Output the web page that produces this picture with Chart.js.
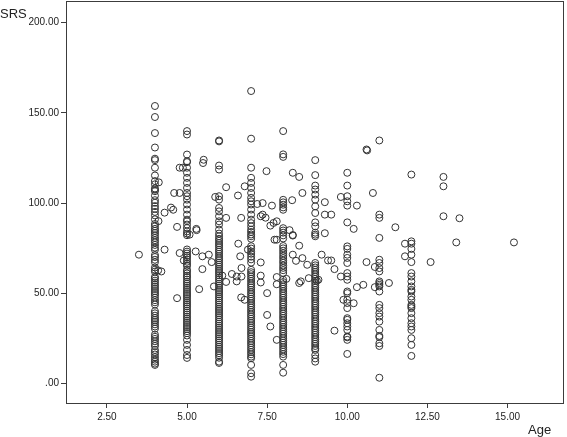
<!DOCTYPE html>
<html>
<head>
<meta charset="utf-8">
<script src="https://cdn.jsdelivr.net/npm/chart.js@4.4.1/dist/chart.umd.min.js"></script>
<style>
    body { margin: 0; background: #fff; }
    #wrap { width: 567px; height: 437px; }
</style>
</head>
<body>
<div id="wrap"><canvas id="scatterChart" width="567" height="437"></canvas></div>
<script>
// Tick values and labels
const xTicks = [2.5, 5, 7.5, 10, 12.5, 15];
const xTickLabels = ['2.50', '5.00', '7.50', '10.00', '12.50', '15.00'];
const yTicks = [0, 50, 100, 150, 200];
const yTickLabels = ['.00', '50.00', '100.00', '150.00', '200.00'];

// SRS values for the children stacked at each whole age
const columnAges = [4, 5, 6, 7, 8, 9, 10, 11, 12];
const age4Srs = [153.8, 147.7, 138.8, 130.8, 124.6, 123.8, 119.6, 115.3, 112.2, 110.4, 108.1, 107.4, 106.6, 104.1, 101.6, 100.2, 98.3, 96.8, 95.1, 93.2, 91.0, 88.4, 87.1, 85.7, 84.6, 83.4, 82.1, 80.7, 79.4, 78.2, 76.8, 75.3, 74.1, 71.2, 70.1, 68.6, 67.2, 64.3, 63.1, 62.0, 59.1, 58.2, 57.0, 55.9, 54.7, 53.6, 52.4, 51.2, 50.1, 49.0, 47.6, 46.2, 45.0, 43.8, 40.1, 38.9, 37.6, 36.3, 35.2, 34.1, 32.8, 31.6, 30.4, 27.1, 25.9, 24.7, 23.4, 22.1, 20.8, 18.6, 17.3, 16.1, 14.6, 13.2, 12.1, 11.0, 10.3];
const age5Srs = [139.9, 138.0, 126.9, 123.2, 122.7, 119.6, 116.8, 114.0, 111.2, 108.4, 105.6, 103.8, 101.9, 99.2, 96.4, 93.6, 90.8, 89.9, 88.1, 86.2, 84.3, 83.1, 82.2, 74.3, 73.1, 72.0, 70.8, 69.9, 68.7, 67.5, 66.3, 65.2, 63.1, 62.2, 61.0, 59.8, 58.9, 57.6, 56.4, 55.3, 54.2, 53.0, 51.9, 50.7, 49.6, 48.5, 47.3, 46.1, 45.0, 43.9, 42.8, 41.6, 40.4, 39.3, 38.2, 37.0, 35.9, 34.7, 33.6, 32.4, 31.3, 30.2, 29.0, 27.9, 26.6, 24.2, 21.4, 18.6, 15.8, 14.2];
const age6Srs = [134.7, 134.2, 120.8, 118.6, 103.8, 101.9, 97.3, 95.4, 92.7, 89.9, 88.1, 85.3, 83.1, 81.6, 80.2, 79.1, 77.8, 76.7, 75.5, 74.2, 73.1, 71.9, 70.6, 69.4, 68.3, 67.0, 65.9, 64.7, 63.5, 62.3, 61.2, 60.0, 58.8, 57.7, 56.5, 55.3, 54.2, 53.0, 51.8, 50.7, 49.5, 48.3, 47.2, 46.0, 44.9, 43.7, 42.5, 41.3, 40.2, 39.0, 37.9, 36.7, 35.5, 34.3, 33.2, 32.0, 30.9, 29.7, 28.5, 27.3, 26.2, 25.0, 23.9, 22.7, 21.5, 20.3, 19.2, 18.0, 16.8, 15.7, 14.3, 12.1, 11.4];
const age7Srs = [162.1, 135.7, 119.6, 114.0, 111.2, 108.4, 105.6, 102.9, 101.0, 99.2, 96.4, 93.6, 90.8, 88.9, 87.1, 85.3, 84.0, 82.6, 81.6, 80.2, 76.1, 74.8, 73.2, 71.9, 70.3, 68.8, 67.0, 63.0, 61.7, 60.6, 59.3, 58.1, 56.8, 55.5, 54.4, 53.2, 51.9, 50.6, 49.5, 48.2, 47.0, 45.8, 44.5, 43.3, 42.1, 40.8, 39.6, 38.3, 37.2, 35.9, 34.7, 33.5, 32.2, 31.0, 29.8, 28.5, 27.4, 26.1, 24.9, 23.6, 22.4, 21.2, 19.9, 18.7, 17.4, 16.2, 14.9, 14.0, 10.3, 5.7, 3.8];
const age8Srs = [139.9, 127.0, 125.6, 101.8, 100.4, 99.1, 97.6, 96.3, 86.1, 84.8, 83.6, 82.1, 80.4, 76.2, 74.9, 73.6, 72.2, 70.8, 69.5, 68.1, 66.9, 65.4, 64.1, 62.8, 61.3, 57.5, 56.2, 55.0, 53.7, 52.5, 51.2, 50.0, 48.7, 47.5, 46.2, 45.0, 43.8, 42.5, 41.3, 40.0, 38.8, 37.5, 36.3, 35.0, 33.8, 32.6, 31.3, 30.1, 28.8, 27.6, 26.3, 25.1, 23.8, 22.6, 21.4, 20.1, 18.9, 17.6, 16.3, 14.9, 10.3, 6.0];
const age9Srs = [123.8, 115.5, 109.7, 107.5, 104.7, 101.9, 98.2, 94.5, 89.3, 87.1, 83.6, 82.5, 81.6, 66.8, 65.5, 64.3, 63.0, 61.8, 60.5, 59.3, 58.0, 56.8, 55.6, 54.3, 53.1, 51.8, 50.6, 49.3, 48.1, 46.9, 45.6, 44.4, 43.1, 41.9, 40.6, 39.4, 38.2, 36.9, 35.7, 34.4, 33.2, 31.9, 30.7, 29.5, 28.2, 27.0, 25.7, 24.5, 23.2, 22.0, 20.8, 19.5, 18.6, 15.8, 13.9, 12.1];
const age10Srs = [116.8, 109.7, 103.8, 101.0, 98.6, 89.3, 76.0, 74.6, 71.4, 69.6, 66.8, 61.2, 59.3, 57.5, 51.0, 50.1, 46.4, 44.6, 41.8, 36.2, 35.3, 33.4, 31.6, 29.7, 26.0, 25.6, 24.2, 16.4];
const age11Srs = [134.7, 93.6, 91.8, 80.7, 68.6, 66.8, 64.0, 62.1, 56.6, 55.7, 54.7, 53.8, 51.0, 43.6, 41.8, 39.0, 37.1, 34.3, 29.7, 26.4, 25.7, 22.3, 20.8, 3.2];
const age12Srs = [115.8, 78.8, 77.5, 74.6, 71.4, 67.3, 61.2, 59.3, 56.6, 53.8, 51.9, 51.0, 48.2, 46.4, 43.6, 42.7, 41.8, 39.0, 36.2, 33.4, 31.6, 29.7, 25.1, 21.4, 15.3];
const columnSrs = [age4Srs, age5Srs, age6Srs, age7Srs, age8Srs, age9Srs, age10Srs, age11Srs, age12Srs];

// Children whose age is not a whole year
const offAge = [3.5, 4.12, 4.5, 4.57, 4.3, 4.11, 4.69, 5.08, 5.29, 4.77, 4.87, 4.6, 4.77, 5.5, 5.52,
    6.22, 5.88, 6.22, 7.48, 6.8, 6.59, 7.19, 6.69, 7.36, 7.45, 7.6,
    4.3, 4.2, 4.1, 4.69, 4.77, 4.9, 5.27, 5.48, 5.68, 5.77, 5.48, 5.38, 5.3,
    5.84, 6.1, 6.4, 6.22, 6.6, 6.66, 6.55, 6.55, 6.7, 6.7, 6.69, 6.8,
    6.9, 7.3, 7.3, 7.3, 7.5, 7.5, 7.6,
    8.3, 8.5, 7.65, 8.28, 8.6, 9.3, 9.3, 9.5, 9.3, 9.8, 10.3, 10.2, 10.6, 10.62, 10.8, 11.5, 7.3, 7.7, 7.8, 8.2, 8.3, 7.36,
    7.73, 7.8, 8.3, 8.5, 8.3, 8.4, 8.6, 8.75, 8.1, 7.8, 7.8, 7.8, 8.5, 8.55, 8.8, 9.2, 9.4, 9.5, 9.6, 9.8, 9.1, 9.05,
    9.88, 10.2, 9.6, 10.3, 10.5, 10.6, 10.86, 10.86, 11.3, 11.8, 11.8,
    13.0, 13.0, 13.0, 13.5, 13.4, 15.2, 12.6];
const offSrs = [71.4, 111.5, 97.5, 96.3, 94.7, 90.0, 86.8, 82.5, 85.7, 119.6, 119.6, 105.6, 105.6, 122.2, 124.0,
    108.8, 103.4, 91.8, 117.7, 109.3, 104.2, 99.5, 91.8, 93.6, 91.9, 87.5,
    74.2, 62.1, 62.7, 47.3, 72.3, 68.2, 73.2, 70.5, 71.4, 67.3, 63.4, 52.3, 85.0,
    53.8, 59.8, 60.7, 56.3, 77.5, 70.5, 59.3, 56.6, 64.0, 59.3, 47.7, 46.4,
    74.2, 67.1, 59.8, 56.0, 50.1, 38.0, 31.6,
    116.8, 114.5, 98.6, 101.6, 105.6, 100.5, 93.6, 93.6, 83.3, 103.4, 98.6, 85.7, 129.7, 129.2, 105.6, 86.6, 92.7, 89.0, 89.9, 85.0, 82.3, 100.0,
    79.7, 79.7, 82.0, 76.4, 71.4, 68.0, 69.5, 65.8, 58.0, 59.0, 55.0, 24.2, 55.7, 56.6, 58.4, 71.4, 68.2, 68.2, 63.4, 59.3, 57.5, 57.0,
    46.4, 44.5, 29.3, 53.4, 54.7, 67.3, 64.6, 53.4, 55.7, 77.5, 70.5,
    114.5, 109.3, 92.7, 91.6, 78.2, 78.2, 67.3];

// Build the point list for the scatter dataset
function buildPoints() {
    const points = [];
    columnAges.forEach((age, i) => {
        columnSrs[i].forEach(v => points.push({ x: age, y: v }));
    });
    offAge.forEach((age, i) => points.push({ x: age, y: offSrs[i] }));
    return points;
}

// Draws the frame round the plot area and the two axis names
const framePlugin = {
    id: 'frame',
    afterDraw(chart) {
        const ctx = chart.ctx;
        const a = chart.chartArea;
        ctx.save();
        ctx.strokeStyle = '#3c3c3c';
        ctx.lineWidth = 1;
        ctx.strokeRect(a.left + 0.5, a.top + 0.5, a.right - a.left, a.bottom - a.top);
        ctx.fillStyle = '#222';
        ctx.font = '13px "Liberation Sans", Arial, sans-serif';
        ctx.textBaseline = 'alphabetic';
        ctx.textAlign = 'left';
        ctx.fillText('SRS', 0, 18);
        ctx.fillText('Age', 528, 434);
        ctx.restore();
    }
};

Chart.defaults.font.family = '"Liberation Sans", Arial, sans-serif';
Chart.defaults.font.size = 10;
Chart.defaults.color = '#222';

const ctx = document.getElementById('scatterChart').getContext('2d');
window.myChart = new Chart(ctx, {
    type: 'scatter',
    data: {
        datasets: [{
            label: 'SRS',
            data: buildPoints(),
            pointStyle: 'circle',
            pointRadius: 3.5,
            pointHoverRadius: 3.5,
            pointBorderWidth: 1,
            borderColor: '#333',
            backgroundColor: 'rgba(0,0,0,0)'
        }]
    },
    options: {
        responsive: false,
        animation: false,
        events: [],
        // no automatic room for the point radius, the frame sits right at the top
        layout: { autoPadding: false, padding: { left: 0, right: 4, top: 1, bottom: 0 } },
        plugins: {
            legend: { display: false },
            tooltip: { enabled: false }
        },
        scales: {
            x: {
                type: 'linear',
                min: 1.225,
                max: 16.73,
                afterBuildTicks: s => { s.ticks = xTicks.map(v => ({ value: v })); },
                afterFit: s => {
                    s.height = 34;
                    s.paddingLeft = 0;
                    s.paddingRight = 0;
                },
                grid: { drawOnChartArea: false, drawTicks: true, tickLength: 5, color: '#3c3c3c' },
                border: { display: true, color: '#3c3c3c' },
                ticks: {
                    autoSkip: false,
                    maxRotation: 0,
                    padding: 3,
                    callback: (value, index) => xTickLabels[index]
                }
            },
            y: {
                type: 'linear',
                min: -10.8,
                max: 212,
                afterBuildTicks: s => { s.ticks = yTicks.map(v => ({ value: v })); },
                afterFit: s => {
                    s.width = 66;
                    s.paddingTop = 0;
                    s.paddingBottom = 0;
                },
                grid: { drawOnChartArea: false, drawTicks: true, tickLength: 5, color: '#3c3c3c' },
                border: { display: true, color: '#3c3c3c' },
                ticks: {
                    padding: 2,
                    callback: (value, index) => yTickLabels[index]
                }
            }
        }
    },
    plugins: [framePlugin]
});
</script>
</body>
</html>
